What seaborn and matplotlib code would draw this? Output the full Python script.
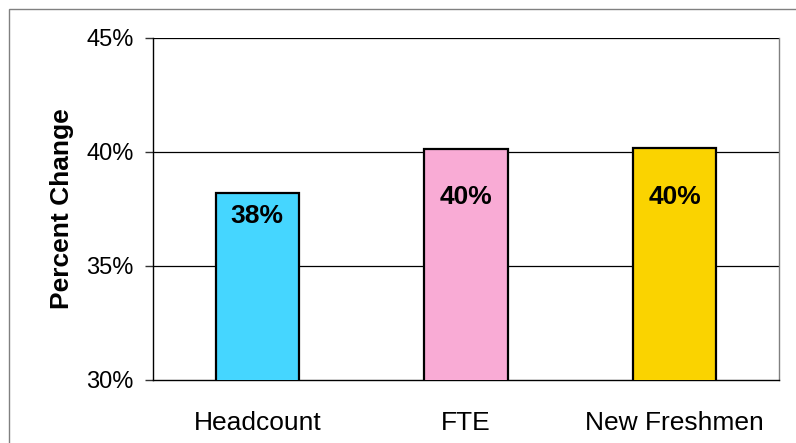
import matplotlib
matplotlib.use("Agg")
import matplotlib.pyplot as plt
import matplotlib.patches as mpatches
import seaborn as sns
import pandas as pd

# values
categories = ["Headcount", "FTE", "New Freshmen"]
pct_change = [38.2, 40.1, 40.15]
bar_labels = ["38%", "40%", "40%"]
bar_colors = ["#45D6FF", "#F9ABD5", "#FAD300"]
y_ticks = [30, 35, 40, 45]
y_tick_labels = ["30%", "35%", "40%", "45%"]

sns.set_style("white")
plt.rcParams["font.family"] = ["Liberation Sans", "DejaVu Sans"]
plt.rcParams["text.color"] = "black"
plt.rcParams["axes.labelcolor"] = "black"
plt.rcParams["xtick.color"] = "black"
plt.rcParams["ytick.color"] = "black"

df = pd.DataFrame({"Category": categories, "Change": pct_change})

fig = plt.figure(figsize=(7.96, 4.43), dpi=100)
ax = fig.add_axes([153 / 796, 1 - 380 / 443, (779 - 153) / 796, (380 - 37.5) / 443])

sns.barplot(data=df, x="Category", y="Change", hue="Category", palette=bar_colors,
            saturation=1, width=0.4, edgecolor="black", linewidth=1.6, legend=False,
            ax=ax, zorder=3)

ax.set_ylim(30, 45)
ax.set_xlim(-0.5, 2.5)
ax.set_yticks(y_ticks)
ax.set_yticklabels(y_tick_labels, fontsize=17)
for y in y_ticks[1:]:
    ax.axhline(y, color="black", lw=0.9, zorder=1)

# category labels, ticks at the boundaries
ax.set_xticks(range(len(categories)))
ax.set_xticklabels(categories, fontsize=19)
ax.set_xticks([-0.5, 0.5, 1.5, 2.5], minor=True)
ax.tick_params(axis="x", which="major", length=0, pad=22)
ax.tick_params(axis="x", which="minor", length=7, width=1, color="#333333", direction="out")
ax.tick_params(axis="y", length=6, width=1, color="#333333", direction="out", left=True, pad=8)
ax.set_xlabel("")
ax.set_ylabel("Percent Change", fontsize=19, fontweight="bold", labelpad=9)

for side in ["left", "bottom"]:
    ax.spines[side].set_color("black")
    ax.spines[side].set_linewidth(1.0)
ax.spines["right"].set_color("#808080")
ax.spines["right"].set_linewidth(1.0)
ax.spines["top"].set_visible(False)

# data labels inside the bars
label_y = [37.2, 38.0, 38.0]
for i, txt in enumerate(bar_labels):
    ax.text(i, label_y[i], txt, ha="center", va="center", fontsize=19,
            fontweight="bold", zorder=4)

# chart-area border
fig.patches.append(mpatches.Rectangle((8.5 / 796, -0.1), 1.2, 1 - 8.5 / 443 + 0.1,
                                      transform=fig.transFigure, fill=False,
                                      edgecolor="#808080", lw=1.0))

fig.savefig("out.png", dpi=100)
